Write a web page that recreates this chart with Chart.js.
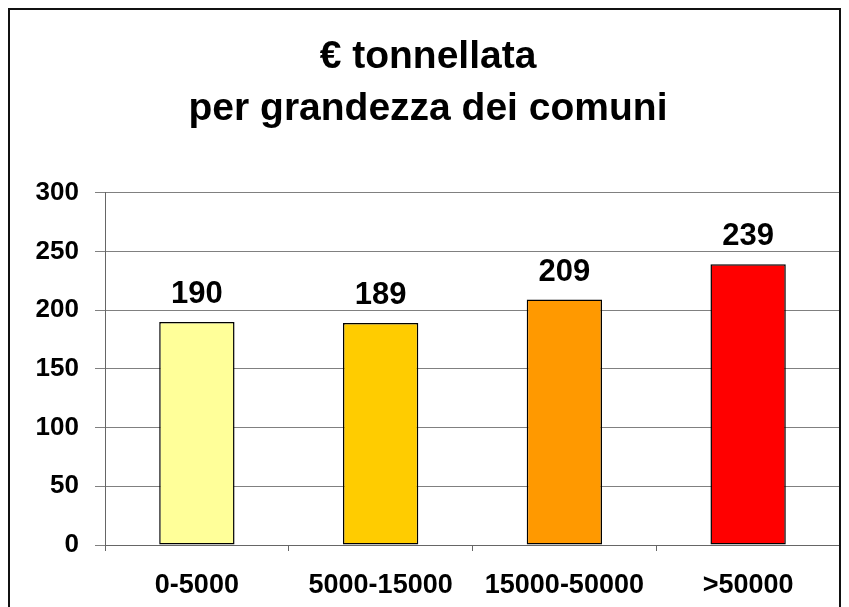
<!DOCTYPE html>
<html>
<head>
<meta charset="utf-8">
<script src="https://cdn.jsdelivr.net/npm/chart.js@4"></script>
<style>
  html, body { margin: 0; padding: 0; background: #fff; }
  #wrap { width: 849px; height: 607px; }
</style>
</head>
<body>
<div id="wrap"><canvas id="chart"></canvas></div>
<script>
// ── Dati ──────────────────────────────────────────────────────
const categorie = ["0-5000", "5000-15000", "15000-50000", ">50000"];
const valori    = [190, 189, 209, 239];
const colori    = ["#FFFF99", "#FFCC00", "#FF9900", "#FF0000"];
const titolo    = ["€ tonnellata", "per grandezza dei comuni"];
const yMax      = 300;
const yPasso    = 50;

const FONT = "'Liberation Sans', Arial, Helvetica, sans-serif";

// Sfondo bianco + cornice esterna
const cornice = {
  id: "cornice",
  beforeDraw(chart) {
    const ctx = chart.ctx;
    ctx.save();
    ctx.fillStyle = "#fff";
    ctx.fillRect(0, 0, chart.width, chart.height);
    ctx.restore();
  },
  afterDraw(chart) {
    const ctx = chart.ctx;
    ctx.save();
    ctx.strokeStyle = "#111";
    ctx.lineWidth = 2;
    ctx.strokeRect(9, 9, chart.width - 18, chart.height + 40);
    ctx.restore();
  }
};

// Etichette dei valori sopra le barre
const etichette = {
  id: "etichette",
  afterDatasetsDraw(chart) {
    const ctx = chart.ctx;
    const meta = chart.getDatasetMeta(0);
    ctx.save();
    ctx.font = "bold 31px " + FONT;
    ctx.fillStyle = "#000";
    ctx.textAlign = "center";
    ctx.textBaseline = "alphabetic";
    meta.data.forEach((bar, i) => {
      ctx.fillText(String(valori[i]), bar.x, bar.y - 19);
    });
    ctx.restore();
  }
};

new Chart(document.getElementById("chart"), {
  type: "bar",
  data: {
    labels: categorie,
    datasets: [{
      data: valori,
      backgroundColor: colori,
      borderColor: "#000",
      borderWidth: 1.5,
      borderSkipped: false,
      categoryPercentage: 1,
      barPercentage: 0.41
    }]
  },
  options: {
    responsive: true,
    maintainAspectRatio: false,
    animation: false,
    layout: { padding: { left: 16, right: 9, top: 0, bottom: 0 } },
    plugins: {
      legend: { display: false },
      tooltip: { enabled: false },
      title: {
        display: true,
        text: titolo,
        color: "#000",
        font: { family: FONT, size: 39, weight: "bold", lineHeight: 1.33 },
        padding: { top: 31, bottom: 58 }
      }
    },
    scales: {
      y: {
        min: 0,
        max: yMax,
        ticks: {
          stepSize: yPasso,
          color: "#000",
          padding: 16,
          font: { family: FONT, size: 26, weight: "bold" }
        },
        grid: { color: "#808080", lineWidth: 1, tickLength: 10 },
        border: { display: true, color: "#666", width: 1 },
        afterFit(scale) { scale.width = 89; }
      },
      x: {
        offset: true,
        ticks: {
          color: "#000",
          padding: 18,
          font: { family: FONT, size: 27, weight: "bold" }
        },
        grid: { offset: true, drawOnChartArea: false, tickLength: 6, color: "#666" },
        border: { display: true, color: "#666", width: 1 },
        afterFit(scale) { scale.height = 62; }
      }
    }
  },
  plugins: [cornice, etichette]
});
</script>
</body>
</html>
